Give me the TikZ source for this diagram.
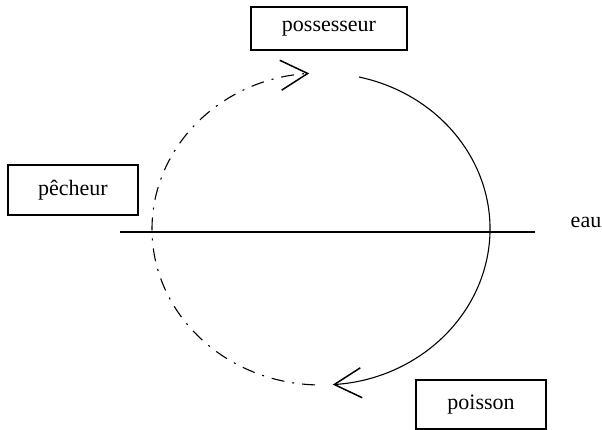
\documentclass[tikz,border=0pt]{standalone}
\usepackage{fontspec}
\setmainfont{Liberation Serif}
\usetikzlibrary{arrows.meta}

\begin{document}
\begin{tikzpicture}[x=1pt,y=1pt,
labelbox/.style={rectangle, draw, line width=1.2pt, inner sep=0pt, font=\fontsize{22}{26}\selectfont},
cycleline/.style={line width=1.1pt, -{Straight Barb[length=27pt,width=30pt,line width=1.5pt]}},
water/.style={line width=2pt}
]
\useasboundingbox (0,0) rectangle (602,430);
%Nodes
\node[labelbox, minimum width=156pt, minimum height=43pt] at (329,401.5) (possesseur) {possesseur};
\node[labelbox, minimum width=130pt, minimum height=50pt] at (73,240) (pecheur) {pêcheur};
\node[labelbox, minimum width=130pt, minimum height=49pt] at (481,25.5) (poisson) {poisson};
\node[font=\fontsize{22}{26}\selectfont] at (586,208) (eau) {eau};

\coordinate (C) at (321,201);

%Lines
\draw[water] (120,198) coordinate (w1) -- (535,198) coordinate (w2);
\draw[cycleline] (C) ++(77:169 and 156) arc[start angle=77, end angle=-86, x radius=169, y radius=156];
\draw[cycleline, dash pattern=on 13pt off 8pt on 2pt off 8pt] (C) ++(-92:169 and 156) arc[start angle=-92, end angle=-266, x radius=169, y radius=156];
\end{tikzpicture}
\end{document}
